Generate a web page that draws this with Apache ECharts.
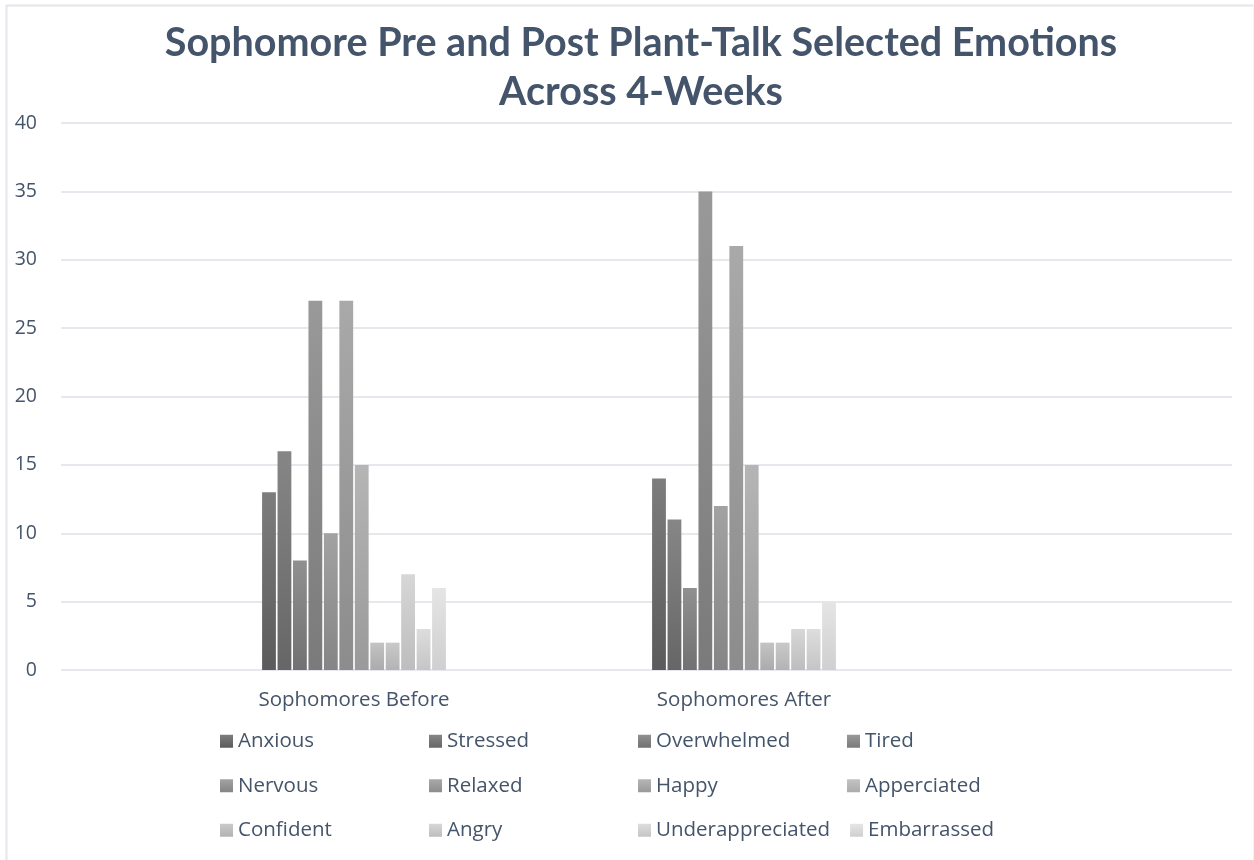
<!DOCTYPE html>
<html>
<head>
<meta charset="utf-8">
<style>
  html, body { margin: 0; padding: 0; background: #ffffff; }
  #chart { width: 1254px; height: 860px; }
</style>
<script src="https://cdn.jsdelivr.net/npm/echarts@6/dist/echarts.min.js"></script>
</head>
<body>
<div id="chart"></div>
<script>
// Categories on the horizontal axis
const categories = ['Sophomores Before', 'Sophomores After'];

// Emotion series, in legend order
const emotions = [
  'Anxious', 'Stressed', 'Overwhelmed', 'Tired',
  'Nervous', 'Relaxed', 'Happy', 'Apperciated',
  'Confident', 'Angry', 'Underappreciated', 'Embarrassed'
];

// Counts per emotion: [before, after]
const anxious = [13, 14];
const stressed = [16, 11];
const overwhelmed = [8, 6];
const tired = [27, 35];
const nervous = [10, 12];
const relaxed = [27, 31];
const happy = [15, 15];
const apperciated = [2, 2];
const confident = [2, 2];
const angry = [7, 3];
const underappreciated = [3, 3];
const embarrassed = [6, 5];

const seriesValues = [
  anxious, stressed, overwhelmed, tired,
  nervous, relaxed, happy, apperciated,
  confident, angry, underappreciated, embarrassed
];

// Value axis ticks
const yTicks = [0, 5, 10, 15, 20, 25, 30, 35, 40];

// Monochrome gray gradient per series: [top, bottom]
const shades = [
  ['#7d7d7d', '#5b5b5b'], ['#868686', '#666666'], ['#909090', '#717171'], ['#999999', '#7a7a7a'],
  ['#a2a2a2', '#858585'], ['#a9a9a9', '#8c8c8c'], ['#b5b5b5', '#9a9a9a'], ['#c3c3c3', '#ababab'],
  ['#c9c9c9', '#b3b3b3'], ['#d7d7d7', '#bdbdbd'], ['#dddddd', '#c5c5c5'], ['#e5e5e5', '#cfcfcf']
];

const textColor = '#44546A';
const gridColor = '#DCE0E6';
const font = '"Open Sans", "Noto Sans", sans-serif';

const chart = echarts.init(document.getElementById('chart'), null, { renderer: 'canvas' });

const series = emotions.map((name, i) => ({
  name: name,
  type: 'bar',
  xAxisIndex: 1,
  yAxisIndex: 1,
  barWidth: 13.8,
  barGap: '12%',
  data: seriesValues[i],
  itemStyle: {
    color: new echarts.graphic.LinearGradient(0, 0, 0, 1, [
      { offset: 0, color: shades[i][0] },
      { offset: 1, color: shades[i][1] }
    ])
  }
}));

chart.setOption({
  animation: false,
  backgroundColor: '#ffffff',
  title: {
    text: 'Sophomore Pre and Post Plant-Talk Selected Emotions\nAcross 4-Weeks',
    left: 636,
    top: 14,
    textAlign: 'center',
    textStyle: {
      fontFamily: 'Lato, "Open Sans", sans-serif',
      fontWeight: 'bold',
      fontSize: 39.5,
      lineHeight: 49,
      color: textColor
    }
  },
  grid: [
    { left: 61, right: 22, top: 123, bottom: 190 },
    { left: 159, width: 780, top: 123, bottom: 190 }
  ],
  xAxis: [
    { type: 'category', gridIndex: 0, data: [''], show: false },
    {
      type: 'category', gridIndex: 1, data: categories,
      axisLine: { show: false },
      axisTick: { show: false },
      axisLabel: {
        margin: 20,
        fontFamily: font,
        fontSize: 20.5,
        color: textColor
      }
    }
  ],
  yAxis: [
    {
      type: 'value', gridIndex: 0,
      min: yTicks[0], max: yTicks[yTicks.length - 1], interval: 5,
      axisLine: { show: false },
      axisTick: { show: false },
      splitLine: { lineStyle: { color: gridColor, width: 1.5 } },
      axisLabel: {
        margin: 24,
        fontFamily: font,
        fontSize: 19.5,
        color: textColor
      }
    },
    {
      type: 'value', gridIndex: 1,
      min: yTicks[0], max: yTicks[yTicks.length - 1], interval: 5,
      show: false
    }
  ],
  legend: {
    data: emotions,
    left: 215,
    top: 724,
    width: 840,
    orient: 'horizontal',
    icon: 'rect',
    itemWidth: 13,
    itemHeight: 13,
    itemGap: 20,
    textStyle: {
      fontFamily: font,
      fontSize: 20.5,
      color: textColor,
      width: 171,
      lineHeight: 24.5
    }
  },
  graphic: [
    {
      type: 'polyline',
      shape: { points: [[6.5, 860], [6.5, 5.5], [1254, 5.5]] },
      style: { stroke: '#E3E6EA', lineWidth: 2, fill: null },
      silent: true
    },
    {
      type: 'line',
      shape: { x1: 1253.5, y1: 5, x2: 1253.5, y2: 860 },
      style: { stroke: '#F2F3F5', lineWidth: 1 },
      silent: true
    }
  ],
  series: series
});
</script>
</body>
</html>
